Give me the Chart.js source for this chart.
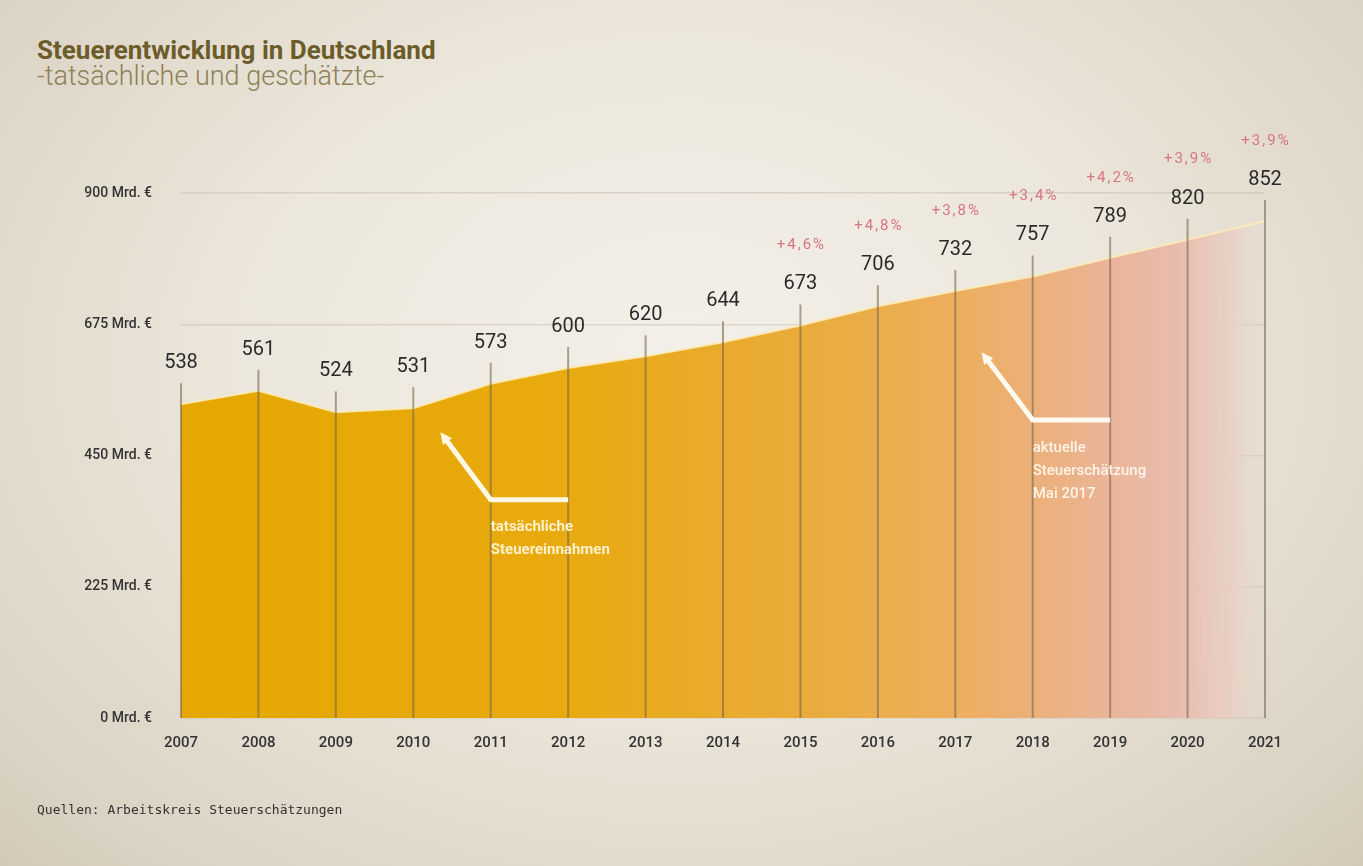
<!DOCTYPE html>
<html>
  <head>
    <meta charset="UTF-8" />
    <title>Steuerentwicklung in Deutschland</title>
    <script src="https://cdn.jsdelivr.net/npm/chart.js"></script>
    <style>
      body {
        margin: 0;
        width: 1363px;
        height: 866px;
        overflow: hidden;
        position: relative;
        font-family: Roboto, sans-serif;
        background: radial-gradient(ellipse at 50% 42%, #f3f0e9 0%, #ece7dc 45%, #dcd4c5 85%, #d2c9b8 100%);
      }
      #chartBox {
        position: absolute;
        left: 0;
        top: 0;
        width: 1363px;
        height: 866px;
      }
      .title {
        position: absolute;
        left: 37px;
        top: 35px;
        font-size: 26px;
        line-height: 30px;
        font-weight: bold;
        color: #6c5c2a;
      }
      .subtitle {
        position: absolute;
        left: 37px;
        top: 60px;
        font-size: 27px;
        line-height: 32px;
        font-weight: 300;
        color: #8e7f58;
      }
      .source {
        position: absolute;
        left: 37px;
        top: 802px;
        font-family: "DejaVu Sans Mono", monospace;
        font-size: 13px;
        color: #333;
      }
    </style>
  </head>
  <body>
    <div class="title">Steuerentwicklung in Deutschland</div>
    <div class="subtitle">-tatsächliche und geschätzte-</div>
    <canvas id="chartBox" width="1363" height="866"></canvas>
    <div class="source">Quellen: Arbeitskreis Steuerschätzungen</div>

    <script>
      // Chart values (Mrd. Euro)
      const years = ["2007", "2008", "2009", "2010", "2011", "2012", "2013", "2014",
                     "2015", "2016", "2017", "2018", "2019", "2020", "2021"];
      const revenue = [538, 561, 524, 531, 573, 600, 620, 644, 673, 706, 732, 757, 789, 820, 852];
      const growth = [null, null, null, null, null, null, null, null,
                      "+4,6%", "+4,8%", "+3,8%", "+3,4%", "+4,2%", "+3,9%", "+3,9%"];
      const yTicks = [0, 225, 450, 675, 900];

      // Annotation anchors: [x index, value]
      const actualArrow = [[3.35, 490], [4, 374], [5, 374]];
      const actualText = ["tatsächliche", "Steuereinnahmen"];
      const forecastArrow = [[10.34, 627], [11, 511], [12, 511]];
      const forecastText = ["aktuelle", "Steuerschätzung", "Mai 2017"];

      // Horizontal gradient for the area, gold -> orange -> pink -> fade out
      function areaFill(context) {
        const area = context.chart.chartArea;
        if (!area) return "#e6a700";
        const g = context.chart.ctx.createLinearGradient(area.left, 0, area.right, 0);
        g.addColorStop(0, "#e5a700");
        g.addColorStop(0.35, "#e8aa0e");
        g.addColorStop(0.57, "#eaab3a");
        g.addColorStop(0.71, "#edae5c");
        g.addColorStop(0.79, "#ecb07a");
        g.addColorStop(0.86, "#eab59a");
        g.addColorStop(0.92, "#e9bbae");
        g.addColorStop(0.97, "rgba(232,206,194,0.8)");
        g.addColorStop(1, "rgba(232,222,208,0.2)");
        return g;
      }

      function drawArrow(ctx, pts, color) {
        ctx.save();
        ctx.strokeStyle = color;
        ctx.fillStyle = color;
        ctx.lineWidth = 5;
        ctx.lineJoin = "miter";
        ctx.beginPath();
        ctx.moveTo(pts[2][0], pts[2][1]);
        ctx.lineTo(pts[1][0], pts[1][1]);
        const ang = Math.atan2(pts[0][1] - pts[1][1], pts[0][0] - pts[1][0]);
        const head = 13;
        ctx.lineTo(pts[0][0] - Math.cos(ang) * head * 0.8, pts[0][1] - Math.sin(ang) * head * 0.8);
        ctx.stroke();
        ctx.beginPath();
        ctx.moveTo(pts[0][0], pts[0][1]);
        ctx.lineTo(pts[0][0] - Math.cos(ang - 0.45) * head, pts[0][1] - Math.sin(ang - 0.45) * head);
        ctx.lineTo(pts[0][0] - Math.cos(ang + 0.45) * head, pts[0][1] - Math.sin(ang + 0.45) * head);
        ctx.closePath();
        ctx.fill();
        ctx.restore();
      }

      // Vertical year lines, value labels, growth labels and arrows
      const decorations = {
        id: "decorations",
        afterDatasetsDraw(chart) {
          const ctx = chart.ctx;
          const x = chart.scales.x;
          const y = chart.scales.y;
          const bottom = y.getPixelForValue(0);

          ctx.save();
          revenue.forEach((v, i) => {
            const px = x.getPixelForValue(i);
            const py = y.getPixelForValue(v);
            ctx.strokeStyle = "rgba(120,104,78,0.6)";
            ctx.lineWidth = 2;
            ctx.beginPath();
            ctx.moveTo(px, bottom);
            ctx.lineTo(px, py - 21);
            ctx.stroke();

            ctx.fillStyle = "#2a2a2a";
            ctx.font = "20px Roboto";
            ctx.textAlign = "center";
            ctx.textBaseline = "middle";
            ctx.fillText(String(v), px, py - 41);

            if (growth[i]) {
              ctx.fillStyle = "#d77482";
              ctx.font = "15px Roboto";
              ctx.letterSpacing = "2px";
              ctx.fillText(growth[i], px + 1, py - 80);
              ctx.letterSpacing = "0px";
            }
          });

          const toPx = p => [x.getPixelForValue(p[0]), y.getPixelForValue(p[1])];

          const a1 = actualArrow.map(toPx);
          drawArrow(ctx, a1, "#fff8e4");
          ctx.fillStyle = "#fdf1cc";
          ctx.font = "bold 15px Roboto";
          ctx.textAlign = "left";
          ctx.textBaseline = "middle";
          actualText.forEach((t, k) => ctx.fillText(t, a1[1][0], a1[1][1] + 27 + k * 23));

          const a2 = forecastArrow.map(toPx);
          drawArrow(ctx, a2, "#fffaf0");
          ctx.fillStyle = "rgba(255,250,240,0.92)";
          ctx.font = "500 15px Roboto";
          forecastText.forEach((t, k) => ctx.fillText(t, a2[1][0], a2[1][1] + 28 + k * 23));
          ctx.restore();
        }
      };

      new Chart(document.getElementById("chartBox").getContext("2d"), {
        type: "line",
        data: {
          labels: years,
          datasets: [{
            data: revenue,
            fill: "origin",
            backgroundColor: areaFill,
            borderColor: "rgba(252,236,186,0.85)",
            borderWidth: 2,
            pointRadius: 0,
            tension: 0
          }]
        },
        options: {
          responsive: false,
          animation: false,
          devicePixelRatio: 1,
          layout: { padding: { left: 0, right: 98, top: 193, bottom: 0 } },
          plugins: {
            legend: { display: false },
            tooltip: { enabled: false }
          },
          scales: {
            x: {
              offset: false,
              grid: { display: false, drawTicks: false },
              border: { display: false },
              ticks: {
                color: "#333",
                font: { family: "Roboto", size: 15, weight: "500" },
                padding: 16,
                maxRotation: 0,
                autoSkip: false
              },
              afterFit(scale) { scale.height = 148; }
            },
            y: {
              min: 0,
              max: 900,
              z: 1,
              afterBuildTicks(scale) { scale.ticks = yTicks.map(v => ({ value: v })); },
              grid: { color: "rgba(150,135,110,0.22)", lineWidth: 1.5, drawTicks: false },
              border: { display: false },
              ticks: {
                color: "#333",
                font: { family: "Roboto", size: 14, weight: "500" },
                padding: 29,
                callback: v => v + " Mrd. €"
              },
              afterFit(scale) { scale.width = 181; }
            }
          }
        },
        plugins: [decorations]
      });
    </script>
  </body>
</html>
